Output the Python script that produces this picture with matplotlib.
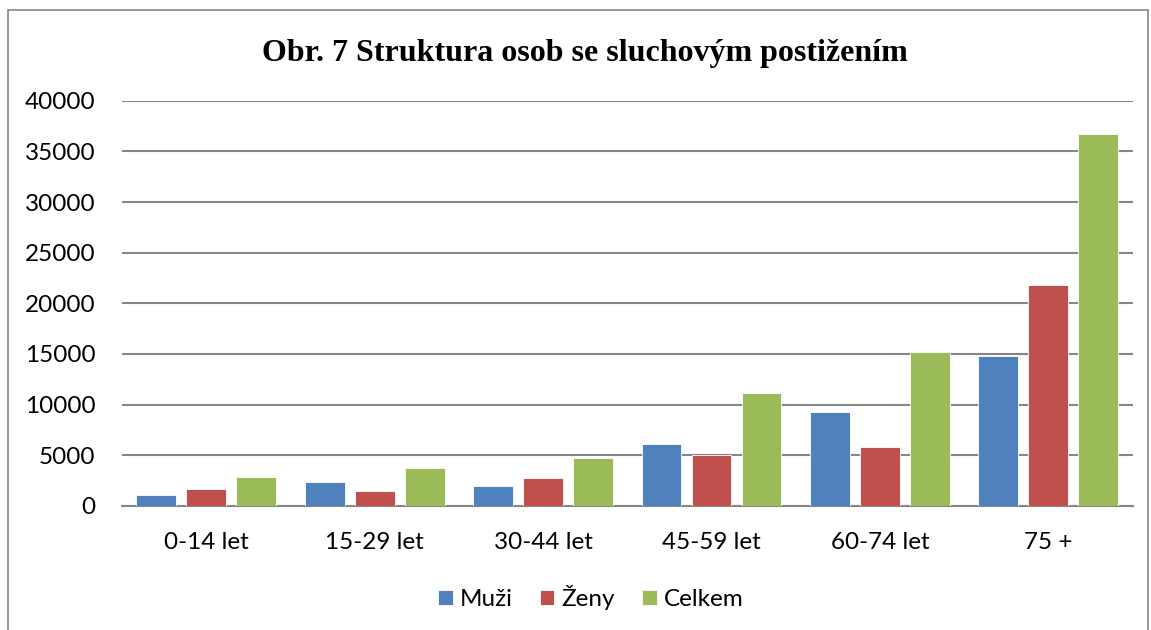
#!/usr/bin/env python3
"""Obr. 7 - struktura osob se sluchovym postizenim."""

import matplotlib.pyplot as plt
from matplotlib.patches import Rectangle
import numpy as np

categories = ['0-14 let', '15-29 let', '30-44 let', '45-59 let', '60-74 let', '75 +']
muzi = [1120, 2370, 1980, 6130, 9320, 14830]
zeny = [1710, 1480, 2730, 5070, 5830, 21810]
celkem = [2900, 3790, 4700, 11170, 15190, 36680]
series_names = ['Muži', 'Ženy', 'Celkem']
colors = ['#4F81BD', '#C0504D', '#9BBB59']
yticks = [0, 5000, 10000, 15000, 20000, 25000, 30000, 35000, 40000]

plt.rcParams['font.family'] = ['Lato', 'DejaVu Sans']
FS = 17.5

fig = plt.figure(figsize=(11.51, 6.30), dpi=100)
ax = fig.add_axes([0.106, 0.197, 0.878, 0.643])

# outer chart frame
fig.patches.append(Rectangle((0.007, -0.05), 0.99, 1.034, transform=fig.transFigure,
                             fill=False, edgecolor='#868686', linewidth=1.2))

x = np.arange(len(categories))
width = 0.237
step = 0.297
for i, (vals, name) in enumerate(zip([muzi, zeny, celkem], series_names)):
    ax.bar(x + (i - 1) * step, vals, width, color=colors[i], label=name,
           edgecolor='white', linewidth=0.6, zorder=3)

ax.set_xlim(-0.5, len(categories) - 0.5)
ax.set_ylim(0, 40000)
ax.set_yticks(yticks)
ax.set_yticklabels([str(t) for t in yticks], fontsize=FS)
ax.set_xticks(x)
ax.set_xticklabels(categories, fontsize=FS)
ax.tick_params(length=0)
ax.tick_params(axis='x', pad=19)
ax.tick_params(axis='y', pad=19)
ax.grid(True, axis='y', color='#868686', linewidth=1.5, zorder=0)
for s in ['left', 'right', 'top']:
    ax.spines[s].set_visible(False)
ax.spines['bottom'].set_color('#868686')
ax.spines['bottom'].set_linewidth(1.5)

fig.text(0.508, 0.915, 'Obr. 7 Struktura osob se sluchovým postižením',
         ha='center', va='center', fontsize=23, fontweight='bold',
         family='Liberation Serif')

ax.legend(loc='center', bbox_to_anchor=(0.464, -0.226), ncol=3, frameon=False,
          fontsize=FS, handlelength=0.6, handleheight=0.6, handletextpad=0.3,
          columnspacing=1.1)

plt.savefig('out.png', dpi=100)
